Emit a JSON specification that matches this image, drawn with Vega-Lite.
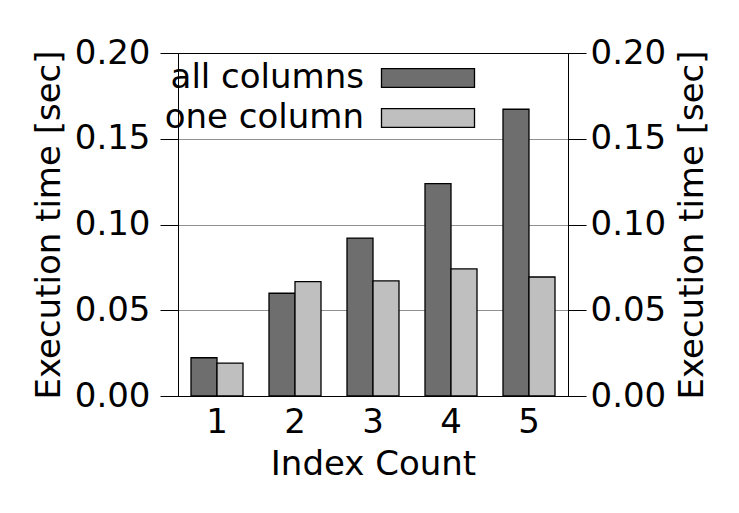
{
  "$schema": "https://vega.github.io/schema/vega-lite/v6.json",
  "description": "Execution time by index count",
  "width": 390,
  "height": 343,
  "autosize": "none",
  "padding": {"left": 178, "top": 53, "right": 171, "bottom": 117},
  "background": "white",
  "config": {
    "font": "DejaVu Sans",
    "view": {"stroke": "black", "strokeWidth": 1},
    "axis": {
      "labelFont": "DejaVu Sans",
      "titleFont": "DejaVu Sans",
      "labelFontSize": 34,
      "titleFontSize": 34,
      "titleFontWeight": "normal",
      "labelColor": "black",
      "titleColor": "black",
      "domainColor": "black",
      "tickColor": "black",
      "gridWidth": 1,
      "labelLimit": 400,
      "titleLimit": 600
    },
    "legend": {
      "labelFont": "DejaVu Sans",
      "labelFontSize": 34,
      "labelColor": "black",
      "labelLimit": 400
    }
  },
  "data": {
    "values": [
      {"count": 1, "type": "all columns", "time": 0.0223},
      {"count": 1, "type": "one column", "time": 0.0192},
      {"count": 2, "type": "all columns", "time": 0.0599},
      {"count": 2, "type": "one column", "time": 0.0667},
      {"count": 3, "type": "all columns", "time": 0.0921},
      {"count": 3, "type": "one column", "time": 0.0671},
      {"count": 4, "type": "all columns", "time": 0.1238},
      {"count": 4, "type": "one column", "time": 0.0741},
      {"count": 5, "type": "all columns", "time": 0.1672},
      {"count": 5, "type": "one column", "time": 0.0694}
    ]
  },
  "encoding": {
    "x": {
      "field": "count",
      "type": "ordinal",
      "scale": {"paddingInner": 0.3333, "paddingOuter": 0.1667},
      "axis": {
        "title": "Index Count",
        "labelAngle": 0,
        "ticks": false,
        "tickSize": 0,
        "domain": false,
        "labelPadding": 9,
        "titlePadding": 8
      }
    },
    "xOffset": {
      "field": "type",
      "sort": ["all columns", "one column"],
      "scale": {"paddingInner": 0, "paddingOuter": 0}
    }
  },
  "layer": [
    {
      "mark": {"type": "bar", "stroke": "black", "strokeWidth": 1.3},
      "encoding": {
        "y": {
          "field": "time",
          "type": "quantitative",
          "scale": {"domain": [0, 0.2]},
          "axis": {
            "title": "Execution time [sec]",
            "values": [0, 0.05, 0.1, 0.15, 0.2],
            "format": ".2f",
            "tickSize": 18,
            "labelPadding": 10,
            "titlePadding": 8,
            "grid": true,
            "gridColor": {
              "condition": {"test": "datum.value <= 0 || datum.value >= 0.2", "value": "black"},
              "value": "#909090"
            }
          }
        },
        "color": {
          "field": "type",
          "type": "nominal",
          "scale": {
            "domain": ["all columns", "one column"],
            "range": ["#6e6e6e", "#bfbfbf"]
          },
          "legend": {
            "title": null,
            "orient": "none",
            "legendX": 233,
            "legendY": 8,
            "padding": 0,
            "symbolType": "M-5,-1H5V1H-5Z",
            "symbolSize": 346,
            "symbolStrokeColor": "black",
            "symbolStrokeWidth": 1.3,
            "symbolOpacity": 1,
            "labelAlign": "right",
            "labelOffset": -81,
            "rowPadding": 6
          }
        }
      }
    },
    {
      "mark": {"type": "bar", "opacity": 0},
      "encoding": {
        "y": {
          "field": "time",
          "type": "quantitative",
          "scale": {"domain": [0, 0.2]},
          "axis": {
            "orient": "right",
            "title": "Execution time [sec]",
            "titleAngle": 270,
            "titleBaseline": "top",
            "values": [0, 0.05, 0.1, 0.15, 0.2],
            "format": ".2f",
            "tickSize": 18,
            "labelPadding": 4,
            "titlePadding": 10,
            "grid": false
          }
        }
      }
    }
  ],
  "resolve": {"scale": {"y": "independent"}}
}
